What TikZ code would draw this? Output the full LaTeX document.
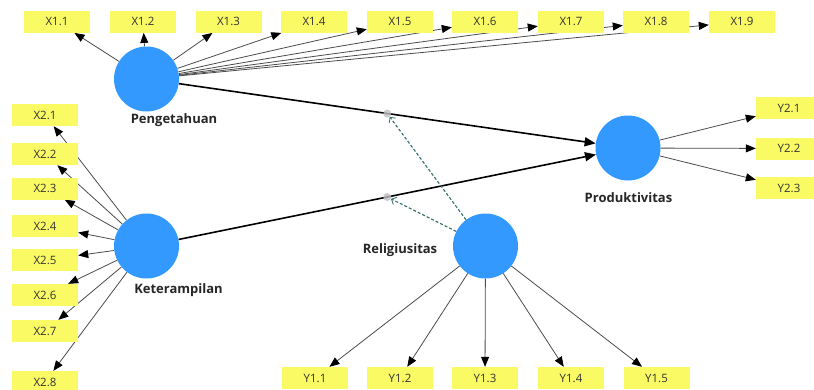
\documentclass[tikz,border=0pt]{standalone}
\usepackage{fontspec}
\setmainfont{Open Sans}
\usetikzlibrary{arrows.meta,calc}
\definecolor{lvblue}{RGB}{51,153,255}
\definecolor{mvyellow}{RGB}{250,250,100}
\definecolor{modteal}{RGB}{47,110,105}
\pgfdeclarelayer{bg}
\pgfsetlayers{bg,main}
\begin{document}
\begin{tikzpicture}[x=1pt,y=-1pt,
  mv/.style={rectangle, fill=mvyellow, minimum width=66pt, minimum height=22pt, inner sep=0pt, font=\fontsize{11.5}{13}\selectfont, text=black!80},
  lv/.style={circle, fill=lvblue, minimum size=65pt, inner sep=0pt},
  lbl/.style={font=\bfseries\fontsize{13}{15}\selectfont, text=black!85},
  meas/.style={draw=black!70, line width=0.8pt, -{Triangle[length=10pt,width=8pt,color=black]}},
  pathedge/.style={draw=black, line width=1.6pt, -{Triangle[length=11pt,width=9pt]}},
  modedge/.style={draw=modteal, line width=1.1pt, dash pattern=on 3pt off 2pt, -{Straight Barb[length=4pt,width=8pt,line width=0.8pt]}},
  mdot/.style={circle, fill=black!25, opacity=0.8, minimum size=8pt, inner sep=0pt}]
\useasboundingbox (0,0) rectangle (814,389);
% latent variables
\node[lv] (P) at (146.5,79) {};
\node[lbl] (Pl) at (174,120) {Pengetahuan};
\node[lv] (K) at (146.5,246) {};
\node[lbl] (Kl) at (178.5,290) {Keterampilan};
\node[lv] (R) at (485.5,246) {};
\node[lbl] (Rl) at (400,250) {Religiusitas};
\node[lv] (Y) at (628,148) {};
\node[lbl] (Yl) at (628.5,198) {Produktivitas};
% indicators
\foreach \i/\x in {1/57,2/143,3/228.5,4/314,5/400,6/485,7/571,8/656,9/742}
  \node[mv] (xa\i) at (\x,21.7) {X1.\i};
\foreach \i/\y in {1/115,2/154,3/188.5,4/226,5/260,6/295,7/331,8/382}
  \node[mv] (xb\i) at (45,\y) {X2.\i};
\foreach \i/\y in {1/108,2/148.5,3/188}
  \node[mv] (yb\i) at (789,\y) {Y2.\i};
\foreach \i/\x in {1/315,2/400,3/485,4/571,5/656.5}
  \node[mv] (ya\i) at (\x,378) {Y1.\i};
% edges
\begin{pgfonlayer}{bg}
\fill[white] (0,0) rectangle (814,389);
\foreach \i in {1,...,9} \draw[meas] (P) -- (xa\i);
\foreach \i in {1,...,8} \draw[meas] (K) -- (xb\i);
\foreach \i in {1,...,3} \draw[meas] (Y) -- (yb\i);
\foreach \i in {1,...,5} \draw[meas] (R) -- (ya\i);
\draw[pathedge] (P) -- (Y);
\draw[pathedge] (K) -- (Y);
\end{pgfonlayer}
\node[mdot] (m1) at ($(P)!0.5!(Y)$) {};
\node[mdot] (m2) at ($(K)!0.5!(Y)$) {};
\draw[modedge] (R) -- (m1);
\draw[modedge] (R) -- (m2);
\end{tikzpicture}
\end{document}
